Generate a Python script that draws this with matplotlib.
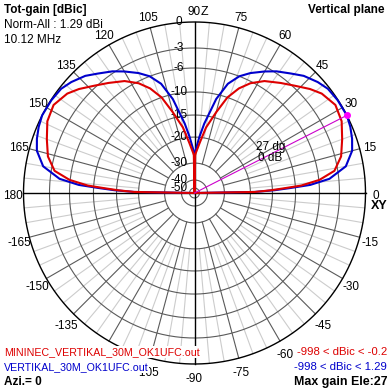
import numpy as np
import matplotlib
matplotlib.use("Agg")
import matplotlib.pyplot as plt

# ring levels (dB) and their radius as fraction of the outer circle
ring_db = [0, -3, -6, -10, -15, -20, -30, -40, -50]
ring_frac = [1.0, 0.848, 0.731, 0.591, 0.456, 0.327, 0.175, 0.076, 0.029]

# elevation (deg) and normalized gain (dB), -999 = no radiation
blue_ele = [0, 1, 2, 3, 4, 6, 10, 15, 19, 23, 27, 33, 38, 42, 47, 51, 56, 60, 65,
            69, 73, 77, 82, 85, 88, 90]
blue_db = [-999, -19, -14.5, -11, -7.5, -4.4, -2.0, -0.9, -0.5, -0.2, 0.0, -0.05,
           -0.2, -0.6, -1.25, -2.0, -2.8, -3.7, -4.9, -6.0, -7.8, -11, -16.8,
           -19.9, -24.4, -27]
red_ele = [0, 1, 2, 3, 4, 6, 9, 14, 20, 26, 32, 38, 42, 47, 52, 58, 63, 67, 71,
           75, 80, 84, 88, 89, 90]
red_db = [-999, -19, -15.5, -12.5, -9, -5.9, -3.5, -2.3, -1.6, -0.84, -0.56, -1.1,
          -1.8, -2.8, -3.8, -4.95, -6.3, -7.9, -10, -13.8, -17.6, -22, -26, -27, -999]

blue_name = "VERTIKAL_30M_OK1UFC.out"
red_name = "MININEC_VERTIKAL_30M_OK1UFC.out"
blue_range = "-998 < dBic < 1.29"
red_range = "-998 < dBic < -0.2"

RED = "#dd0000"
BLUE = "#0000cc"
W = 388
CX, CY, R = 194.5, 193.0, 171.0


def to_r(db):
    db = np.asarray(db, dtype=float)
    r = np.interp(db, ring_db[::-1], ring_frac[::-1])
    return np.where(db <= -998, 0.0, r)


def full_curve(ele, db):
    # vertical plane: right half 0..90, mirrored for 90..180
    ele = np.asarray(ele, dtype=float)
    db = np.asarray(db, dtype=float)
    a = np.concatenate([ele, 180 - ele[::-1]])
    g = np.concatenate([db, db[::-1]])
    r = to_r(g)
    t = np.radians(a)
    return r * np.cos(t), r * np.sin(t)


def px(x, y):
    return (x - CX) / R, (CY - y) / R


plt.rcParams['font.family'] = ['Liberation Sans', 'DejaVu Sans']
fig = plt.figure(figsize=(W / 100, W / 100), dpi=100)
ax = fig.add_axes([0, 0, 1, 1])
ax.set_xlim(-CX / R, (W - CX) / R)
ax.set_ylim(-(W - CY) / R, CY / R)
ax.axis('off')

th = np.linspace(0, 2 * np.pi, 400)
# spokes
for a in range(0, 360, 5):
    t = np.radians(a)
    if a % 90 == 0:
        continue
    if a % 15 == 0:
        ax.plot([0.175 * np.cos(t), np.cos(t)], [0.175 * np.sin(t), np.sin(t)],
                color='#5a5a5a', lw=0.8, zorder=1)
    else:
        ax.plot([0.327 * np.cos(t), np.cos(t)], [0.327 * np.sin(t), np.sin(t)],
                color='#cccccc', lw=0.8, zorder=0)
# rings
for f in ring_frac[1:]:
    ax.plot(f * np.cos(th), f * np.sin(th), color='#5a5a5a', lw=0.8, zorder=1)
ax.plot(np.cos(th), np.sin(th), color='black', lw=1.0, zorder=2)
ax.plot([-1, 1], [0, 0], color='black', lw=1.0, zorder=2)
ax.plot([0, 0], [-1, 1], color='black', lw=1.0, zorder=2)

# ring labels along vertical axis
for d, f in zip(ring_db, ring_frac):
    ax.text(px(179, 0)[0], f, str(d), ha='center', va='center', fontsize=8.5, zorder=3)

# angle labels (-120 is hidden under the file name in the original)
for a in range(-165, 181, 15):
    if a == -120:
        continue
    t = np.radians(a)
    x, y = 1.06 * np.cos(t), 1.075 * np.sin(t) - 0.015
    ax.text(x, y, str(a), ha='center', va='center', fontsize=8.5)
ax.text(*px(201, 12), "Z", ha='left', va='center', fontsize=9)
ax.text(*px(371, 206), "XY", ha='left', va='center', fontsize=9, fontweight='bold')

# patterns
bx, by = full_curve(blue_ele, blue_db)
rx, ry = full_curve(red_ele, red_db)
ax.plot(bx, by, color=BLUE, lw=1.5, zorder=4)
ax.plot(rx, ry, color=RED, lw=1.5, zorder=5)

# max gain marker
i = int(np.argmax(blue_db))
tm = np.radians(blue_ele[i])
rm = to_r(blue_db[i])
ax.plot([0, rm * np.cos(tm)], [0, rm * np.sin(tm)], color='#cc00cc', lw=0.8, zorder=6)
ax.plot(rm * np.cos(tm), rm * np.sin(tm), 'o', color='#ff00ff', ms=4, zorder=7)
ax.text(*px(285, 147), "%d dg" % blue_ele[i], ha='right', va='center', fontsize=8.5, zorder=8)
ax.text(*px(282, 158), "%g dB" % blue_db[i], ha='right', va='center', fontsize=8.5, zorder=8)

# header / footer text
ax.text(*px(4, 10), "Tot-gain [dBic]", ha='left', va='center', fontsize=8.5, fontweight='bold')
ax.text(*px(4, 25), "Norm-All : 1.29 dBi", ha='left', va='center', fontsize=8.5)
ax.text(*px(4, 40), "10.12 MHz", ha='left', va='center', fontsize=8.5)
ax.text(*px(385, 10), "Vertical plane", ha='right', va='center', fontsize=8.5, fontweight='bold')

box = dict(facecolor='white', edgecolor='none', pad=0.5)
ax.text(*px(4, 352), red_name, ha='left', va='center', fontsize=7.7, color=RED,
        bbox=box, zorder=9)
ax.text(*px(4, 367), blue_name, ha='left', va='center', fontsize=7.7, color=BLUE,
        bbox=box, zorder=9)
ax.text(*px(4, 382), "Azi.= 0", ha='left', va='center', fontsize=8.5, fontweight='bold')
ax.text(*px(387, 352), red_range, ha='right', va='center', fontsize=8.2, color=RED)
ax.text(*px(387, 367), blue_range, ha='right', va='center', fontsize=8.2, color=BLUE)
ax.text(*px(387, 382), "Max gain Ele:%d" % blue_ele[i], ha='right', va='center',
        fontsize=8.9, fontweight='bold')

fig.savefig("out.png", dpi=100, facecolor='white')
